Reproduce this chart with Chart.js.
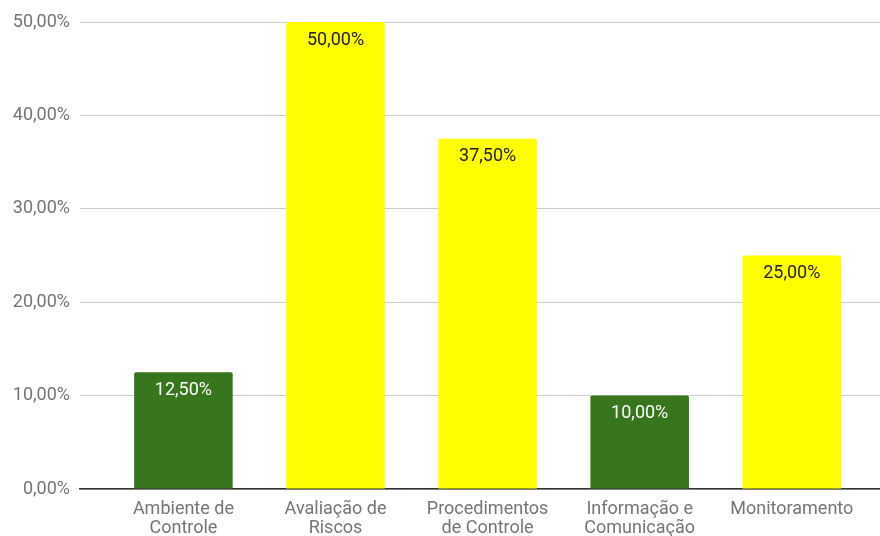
<!DOCTYPE html>
<html>
<head>
<meta charset="utf-8">
<script src="https://cdn.jsdelivr.net/npm/chart.js@4/dist/chart.umd.min.js"></script>
<style>
  html, body { margin: 0; padding: 0; background: #fff; }
  #wrap { width: 880px; height: 536px; }
</style>
</head>
<body>
<div id="wrap"><canvas id="chart" width="880" height="536"></canvas></div>
<script>
const categories = [
  ["Ambiente de", "Controle"],
  ["Avaliação de", "Riscos"],
  ["Procedimentos", "de Controle"],
  ["Informação e", "Comunicação"],
  ["Monitoramento"]
]
const values = [0.125, 0.5, 0.375, 0.1, 0.25]
const barColors = ["#38761d", "#ffff00", "#ffff00", "#38761d", "#ffff00"]
const labelColors = ["#ffffff", "#222222", "#222222", "#ffffff", "#222222"]
const yTicks = [0, 0.1, 0.2, 0.3, 0.4, 0.5]

const pct = v => (v * 100).toFixed(2).replace(".", ",") + "%"

// value text inside the top of each bar
const barValues = {
  id: "barValues",
  afterDatasetsDraw(chart) {
    const ctx = chart.ctx
    const meta = chart.getDatasetMeta(0)
    ctx.save()
    ctx.font = "18px Roboto"
    ctx.textAlign = "center"
    ctx.textBaseline = "middle"
    meta.data.forEach((bar, i) => {
      ctx.fillStyle = labelColors[i]
      ctx.fillText(pct(values[i]), bar.x, bar.y + 18)
    })
    ctx.restore()
  }
}

new Chart(document.getElementById("chart").getContext("2d"), {
  type: "bar",
  data: {
    datasets: [{
      data: values.map((v, i) => ({ x: i, y: v })),
      backgroundColor: barColors,
      borderRadius: 2,
      borderSkipped: "bottom",
      barPercentage: 0.81,
      categoryPercentage: 0.8
    }]
  },
  options: {
    responsive: false,
    animation: false,
    layout: { padding: { top: 22, right: 0, left: 0, bottom: 0 } },
    plugins: { legend: { display: false }, tooltip: { enabled: false } },
    scales: {
      x: {
        type: "linear",
        offset: false,
        min: -0.68,
        max: 4.58,
        grid: { display: false, drawTicks: false },
        border: { display: true, color: "#333333", width: 1.5 },
        afterBuildTicks: s => { s.ticks = categories.map((c, i) => ({ value: i })) },
        afterFit: s => { s.height = 47 },
        ticks: {
          autoSkip: false,
          maxRotation: 0,
          padding: 11,
          color: "#757575",
          font: { family: "Roboto", size: 18, lineHeight: 1.06 },
          callback: v => categories[v]
        }
      },
      y: {
        min: 0,
        max: 0.5,
        afterBuildTicks: s => { s.ticks = yTicks.map(v => ({ value: v })) },
        afterFit: s => { s.width = 80 },
        border: { display: false },
        grid: { color: "#cccccc", drawTicks: false },
        ticks: {
          padding: 10,
          color: "#757575",
          font: { family: "Roboto", size: 18 },
          callback: v => pct(v)
        }
      }
    }
  },
  plugins: [barValues]
})
</script>
</body>
</html>
